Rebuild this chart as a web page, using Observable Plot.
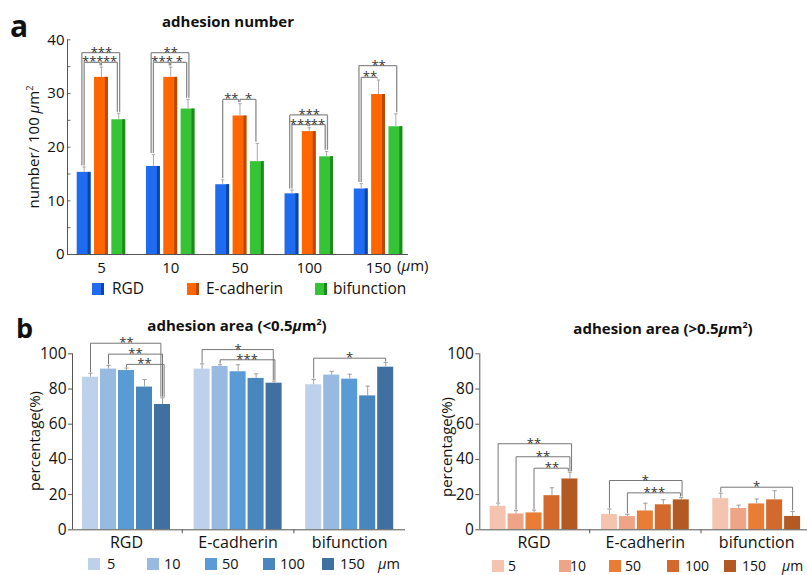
<!DOCTYPE html>
<html><head><meta charset="utf-8">
<script src="https://cdn.jsdelivr.net/npm/d3@7"></script>
<script src="https://cdn.jsdelivr.net/npm/@observablehq/plot@0.6"></script>
<style>
body{margin:0;background:#fff;}
#root{position:relative;width:807px;height:575px;overflow:hidden;font-family:"Open Sans",sans-serif;color:#111;background:#fff;}
.abs{position:absolute;white-space:nowrap;line-height:1;}
.ylab{position:absolute;transform:translate(-50%,-50%) rotate(-90deg);white-space:nowrap;line-height:1;}
.sw{position:absolute;width:12px;height:12px;box-sizing:border-box;}
</style></head><body><div id="root"></div>
<script>
// ================= DATA =================
// Panel a: adhesion number (number / 100 um^2)
const sizesA = ["5", "10", "50", "100", "150"];
const seriesA = ["RGD", "E-cadherin", "bifunction"];
const numRGD = [15.3, 16.4, 13.0, 11.3, 12.2];
const numRGDerr = [1.0, 2.2, 0.9, 0.7, 1.0];
const numEcad = [33.0, 33.0, 25.8, 22.9, 29.8];
const numEcadErr = [1.9, 1.9, 2.3, 0.7, 2.7];
const numBif = [25.1, 27.1, 17.3, 18.2, 23.8];
const numBifErr = [1.2, 1.8, 3.4, 1.0, 2.4];
const ticksA = [0, 10, 20, 30, 40];
const minorTicksA = [5, 15, 25, 35];
// significance brackets: [group, fromSeries, toSeries, level, label]
const bracketsA = [
  [0, 0, 2, 37.6, "***"], [0, 0, 1, 35.8, "***"], [0, 1, 2, 35.8, "**"],
  [1, 0, 2, 37.6, "**"],  [1, 0, 1, 35.8, "***"], [1, 1, 2, 35.8, "*"],
  [2, 0, 1, 28.9, "**"],  [2, 1, 2, 28.9, "*"],
  [3, 0, 2, 26.0, "***"], [3, 0, 1, 24.2, "***"], [3, 1, 2, 24.2, "**"],
  [4, 0, 2, 35.2, "**"],  [4, 0, 1, 33.0, "**"]
];

// Panel b: adhesion area percentage
const groupsB = ["RGD", "E-cadherin", "bifunction"];
const sizesB = ["5", "10", "50", "100", "150"];
const ticksB = [0, 20, 40, 60, 80, 100];
// < 0.5 um^2
const smallRGD = [86.7, 91.3, 90.5, 81.1, 71.2];
const smallRGDerr = [2.3, 2.1, 1.4, 4.3, 3.8];
const smallEcad = [91.3, 92.8, 89.8, 86.0, 83.3];
const smallEcadErr = [3.0, 1.0, 4.0, 2.6, 1.2];
const smallBif = [82.4, 87.9, 85.6, 76.1, 92.4];
const smallBifErr = [3.0, 2.1, 2.8, 5.5, 2.7];
// [group, fromSize, toSize, level, label]
const bracketsSmall = [
  [0, 0, 4, 106.0, "**"], [0, 1, 4, 99.8, "**"], [0, 2, 4, 94.0, "**"],
  [1, 0, 4, 102.4, "*"],  [1, 1, 4, 96.6, "***"],
  [2, 0, 4, 97.5, "*"]
];
// > 0.5 um^2
const largeRGD = [13.3, 9.0, 9.6, 19.4, 28.9];
const largeRGDerr = [1.9, 1.9, 1.6, 4.5, 3.8];
const largeEcad = [8.7, 7.5, 10.7, 14.2, 17.0];
const largeEcadErr = [3.1, 1.3, 4.4, 2.9, 1.3];
const largeBif = [17.7, 12.1, 14.7, 17.0, 7.6];
const largeBifErr = [3.1, 1.9, 2.8, 5.2, 2.8];
const bracketsLarge = [
  [0, 0, 4, 48.9, "**"], [0, 1, 4, 41.5, "**"], [0, 2, 4, 35.0, "**"],
  [1, 0, 4, 28.0, "*"],  [1, 1, 4, 21.0, "***"],
  [2, 0, 4, 24.2, "*"]
];

// ================= STYLE =================
const colorsA = ["#1f6cf0", "#ff6600", "#35c435"];
const darkA = ["#0c45a8", "#b84a00", "#1e8a1e"];
const blues = ["#bdd1ea", "#98b9e0", "#5a9bd6", "#4a86be", "#40709f"];
const oranges = ["#f5c4b1", "#eea487", "#ea7d36", "#d3692c", "#b35a23"];
const FONT = "Open Sans, sans-serif";

const root = document.getElementById("root");
function place(el, left, top) {
  el.style.position = "absolute"; el.style.left = left + "px"; el.style.top = top + "px";
  root.appendChild(el); return el;
}
function addText(html, left, top, css) {
  const d = document.createElement("div");
  d.className = "abs"; d.innerHTML = html;
  d.style.left = left + "px"; d.style.top = top + "px";
  Object.assign(d.style, css || {});
  root.appendChild(d); return d;
}
function addYLabel(html, cx, cy, size) {
  const d = document.createElement("div");
  d.className = "ylab"; d.innerHTML = html;
  d.style.left = cx + "px"; d.style.top = cy + "px"; d.style.fontSize = size + "px";
  root.appendChild(d);
}
function legend(colors, labels, sqX, txtX, y, size, border) {
  colors.forEach((c, i) => {
    const s = document.createElement("div");
    s.className = "sw"; s.style.left = sqX[i] + "px"; s.style.top = y + "px"; s.style.background = c;
    if (border) s.style.borderRight = "3px solid " + border[i];
    root.appendChild(s);
    addText(labels[i], txtX[i], y + 6, {fontSize: size + "px", transform: "translateY(-50%)"});
  });
}

// bracket geometry from the bar values
function bracketMarks(list, xOf, topOf, gap, offL, offR, stroke, width, fsize, dy) {
  const segs = [], labels = [];
  list.forEach((br, i) => {
    const [g, a, b, level, label] = br;
    const xl = xOf(g, a) + offL(br, i, list), xr = xOf(g, b) + offR(br, i, list);
    segs.push({x1: xl, y1: topOf(g, a) + gap, x2: xl, y2: level});
    segs.push({x1: xl, y1: level, x2: xr, y2: level});
    segs.push({x1: xr, y1: level, x2: xr, y2: topOf(g, b) + gap});
    labels.push({x: (xOf(g, a) + xOf(g, b)) / 2, y: level, t: label});
  });
  return [
    Plot.link(segs, {x1: "x1", y1: "y1", x2: "x2", y2: "y2", stroke, strokeWidth: width}),
    Plot.text(labels, {x: "x", y: "y", text: "t", lineAnchor: "bottom", dy, fontSize: fsize, fill: "#333"})
  ];
}

// ================= PANEL A =================
const GA = 4;
const meansA = [numRGD, numEcad, numBif];
const errsA = [numRGDerr, numEcadErr, numBifErr];
const xA = (g, s) => g * GA + (s - 1);
const topA = (g, s) => meansA[s][g] + errsA[s][g];
const rowsA = [];
seriesA.forEach((name, s) => sizesA.forEach((_, g) =>
  rowsA.push({g, s, x: xA(g, s), v: meansA[s][g], e: errsA[s][g]})));
const xminA = -1.96, xmaxA = (sizesA.length - 1) * GA + 1.73;
const hwA = 0.4;

const barMarksA = [];
seriesA.forEach((name, s) => {
  const d = rowsA.filter(r => r.s === s);
  barMarksA.push(Plot.rect(d, {x1: r => r.x - hwA, x2: r => r.x + hwA, y1: 0, y2: "v", fill: colorsA[s]}));
  barMarksA.push(Plot.rect(d, {x1: r => r.x + hwA - 0.17, x2: r => r.x + hwA, y1: 0, y2: "v", fill: darkA[s]}));
});

const svgA = Plot.plot({
  width: 440, height: 280,
  marginLeft: 67, marginRight: 32, marginTop: 39.3, marginBottom: 26,
  x: {domain: [xminA, xmaxA]},
  y: {domain: [0, 40]},
  style: {fontFamily: FONT, fontSize: "15px", color: "#111", background: "transparent", overflow: "visible"},
  marks: [
    Plot.axisY({ticks: ticksA, tickSize: 0, tickPadding: 3, label: null, fontSize: 15}),
    Plot.link(ticksA.concat(minorTicksA), {x1: xminA, x2: xminA + 0.17, y1: d => d, y2: d => d, stroke: "#666"}),
    Plot.axisX({ticks: sizesA.map((_, g) => g * GA), tickSize: 0, tickPadding: 8, label: null,
      tickFormat: v => sizesA[Math.round(v / GA)], fontSize: 15}),
    ...barMarksA,
    Plot.ruleX(rowsA, {x: "x", y1: "v", y2: r => r.v + r.e, stroke: "#aaa"}),
    Plot.link(rowsA, {x1: r => r.x - 0.1, x2: r => r.x + 0.1, y1: r => r.v + r.e, y2: r => r.v + r.e, stroke: "#aaa"}),
    ...bracketMarks(bracketsA, xA, topA, 0.3,
      br => (br[2] - br[1] === 2 ? -0.13 : 0),
      br => (br[2] - br[1] === 2 ? 0.05 : -0.08),
      "#8c8c8c", 1.3, 13, 4),
    Plot.ruleY([0], {stroke: "#555"}),
    Plot.ruleX([xminA], {y1: 0, y2: 40, stroke: "#555"})
  ]
});
place(svgA, 0, 0);

addText("a", 10, 11, {fontSize: "30px", fontWeight: "bold"});
addText("adhesion number", 228, 14, {fontSize: "15px", fontWeight: "bold", transform: "translateX(-50%)"});
addYLabel("number/ 100 <i>μ</i>m<sup style='font-size:9px'>2</sup>", 33, 147, 15);
addText("(<i>μ</i>m)", 397, 258, {fontSize: "15px"});
legend(colorsA, seriesA, [92, 187, 315], [112, 206, 333], 283, 15.5, darkA);

// ================= PANEL B =================
const GB = 6.2;
const xB = (g, s) => g * GB + (s - 2);
function panelB(means, errs, palette, brackets, opts) {
  const topB = (g, s) => means[g][s] + errs[g][s];
  const rows = [];
  groupsB.forEach((_, g) => sizesB.forEach((sz, s) =>
    rows.push({g, s, x: xB(g, s), v: means[g][s], e: errs[g][s]})));
  const hw = 0.445;
  const bars = sizesB.map((sz, s) =>
    Plot.rect(rows.filter(r => r.s === s), {x1: r => r.x - hw, x2: r => r.x + hw, y1: 0, y2: "v", fill: palette[s]}));
  const xmin = opts.domain[0];
  return Plot.plot({
    width: opts.width, height: 262,
    marginLeft: opts.ml, marginRight: opts.mr, marginTop: 53.3, marginBottom: 32.7,
    x: {domain: opts.domain},
    y: {domain: [0, 100]},
    style: {fontFamily: FONT, fontSize: "15px", color: "#111", background: "transparent", overflow: "visible"},
    marks: [
      Plot.axisY({ticks: ticksB, tickSize: 4, tickPadding: 2, label: null, fontSize: 15.5, stroke: "#555"}),
      Plot.axisX({ticks: groupsB.map((_, g) => g * GB), tickSize: 0, tickPadding: 7, label: null,
        tickFormat: v => groupsB[Math.round(v / GB)], fontSize: 16}),
      Plot.axisX({ticks: [GB / 2, GB * 1.5], tickSize: 4, tickFormat: () => "", label: null, stroke: "#555"}),
      ...bars,
      Plot.ruleX(rows, {x: "x", y1: "v", y2: r => r.v + r.e, stroke: "#a0a0a0"}),
      Plot.link(rows, {x1: r => r.x - 0.12, x2: r => r.x + 0.12, y1: r => r.v + r.e, y2: r => r.v + r.e, stroke: "#a0a0a0"}),
      ...bracketMarks(brackets, xB, topB, 0.6,
        () => 0,
        (br, i, list) => {
          const same = list.filter(o => o[0] === br[0]);
          const k = same.indexOf(br);
          return opts.sign * (k - (same.length - 1) / 2) * 0.09;
        },
        "#777", 1, 13, 4),
      Plot.ruleY([0], {stroke: "#555"}),
      Plot.ruleX([xmin], {y1: 0, y2: 100, stroke: "#555"})
    ]
  });
}

const svgBL = panelB([smallRGD, smallEcad, smallBif], [smallRGDerr, smallEcadErr, smallBifErr], blues, bracketsSmall,
  {width: 420, ml: 72, mr: 15, domain: [-3.0, 2 * GB + 3.1], sign: 1});
place(svgBL, 0, 300);
const svgBR = panelB([largeRGD, largeEcad, largeBif], [largeRGDerr, largeEcadErr, largeBifErr], oranges, bracketsLarge,
  {width: 387, ml: 59.3, mr: 0, domain: [-3.02, 2 * GB + 2.83], sign: -1});
place(svgBR, 420, 300);

addText("b", 16, 314, {fontSize: "27px", fontWeight: "bold"});
addText("adhesion area (&lt;0.5<i>μ</i>m<sup style='font-size:9px'>2</sup>)", 237, 317, {fontSize: "15px", fontWeight: "bold", transform: "translateX(-50%)"});
addText("adhesion area (&gt;0.5<i>μ</i>m<sup style='font-size:9px'>2</sup>)", 663, 320, {fontSize: "15px", fontWeight: "bold", transform: "translateX(-50%)"});
addYLabel("percentage(%)", 34, 441, 15);
addYLabel("percentage(%)", 446, 447, 15);
legend(blues, sizesB, [88, 147, 205, 263, 322], [107, 164, 222, 280, 340], 558, 14.5);
addText("<i>μ</i>m", 378, 564, {fontSize: "14.5px", transform: "translateY(-50%)"});
legend(oranges, sizesB, [492, 559, 609, 667, 724], [508, 570, 625, 685, 742], 560, 14);
addText("<i>μ</i>m", 782, 566, {fontSize: "14px", transform: "translateY(-50%)"});
</script></body></html>
